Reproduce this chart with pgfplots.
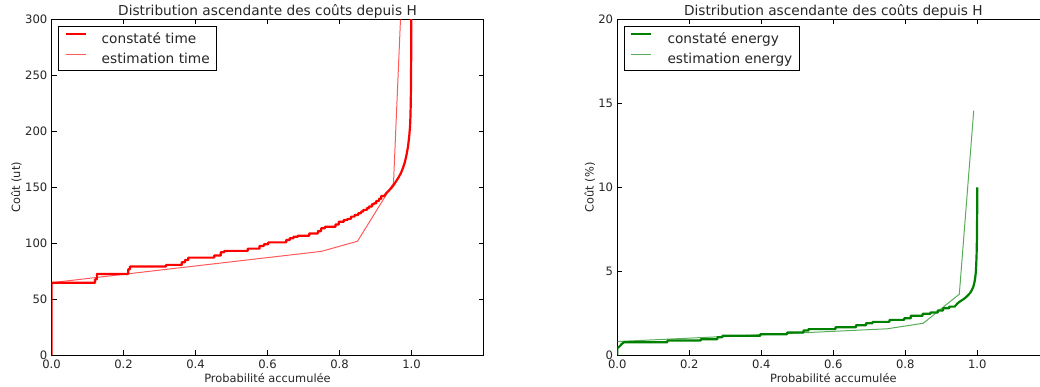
\documentclass[border=0pt]{standalone}
\usepackage{pgfplots}
\pgfplotsset{compat=1.18}
\usepackage{fontspec}
\setmainfont{DejaVu Sans}
\definecolor{mred}{rgb}{1,0,0}
\definecolor{mgreen}{rgb}{0,0.5,0}
\pgfplotsset{
  myaxis/.style={
    scale only axis, width=432pt, height=336pt,
    xmin=0, xmax=1.2,
    xtick={0,0.2,0.4,0.6,0.8,1.0},
    xticklabels={0.0,0.2,0.4,0.6,0.8,1.0},
    /pgf/number format/assume math mode=true,
    tick align=inside, major tick length=5pt,
    every tick/.style={black, line width=0.8pt},
    axis line style={line width=1pt, black},
    tick label style={font=\fontsize{11.6}{13}\selectfont, inner sep=0pt, text=black!85},
    xticklabel style={yshift=-4pt},
    yticklabel style={xshift=-4pt},
    every axis title shift=0pt,
    title style={font=\fontsize{13.7}{16}\selectfont, at={(axis description cs:0.5,1)}, anchor=base, yshift=4pt, inner sep=0pt, text=black!85},
    xlabel style={font=\fontsize{11.4}{13}\selectfont, at={(axis description cs:0.5,0)}, anchor=base, yshift=-27pt, inner sep=0pt, text=black!85},
    ylabel style={font=\fontsize{11.4}{13}\selectfont, anchor=base, inner sep=0pt, text=black!85},
    title={Distribution ascendante des coûts depuis H},
    xlabel={Probabilité accumulée},
    legend cell align=left,
    legend style={at={(axis description cs:0,1)}, anchor=north west, xshift=6.5pt, yshift=-6.5pt,
      draw=black, line width=1pt, font=\fontsize{13.7}{16}\selectfont,
      inner xsep=6pt, inner ysep=5pt, row sep=6pt, column sep=14pt,
      nodes={inner sep=1pt, text=black!85}},
    legend image code/.code={\draw[#1] (0pt,4.5pt) -- (20pt,4.5pt);},
    clip=true,
  }
}
\begin{document}
\begin{tikzpicture}
\useasboundingbox (0,0) rectangle (1040pt,387pt);
\begin{axis}[myaxis, at={(51.5pt,31.5pt)}, anchor=south west,
  ymin=0, ymax=300, ytick={0,50,100,150,200,250,300},
  ylabel={Coût (ut)}, ylabel style={at={(axis description cs:-0.0729,0.5)}}]
\addplot[mred, line width=2.2pt, line join=round] coordinates {
(0,0)(0,65)(0.121,65)(0.121,68)(0.126,68)(0.126,72.8)(0.213,72.8)(0.213,77)(0.218,77)(0.218,79.4)
(0.318,79.4)(0.318,80.9)(0.362,80.9)(0.362,83.3)(0.371,83.3)(0.371,85.3)(0.380,85.3)(0.380,87.4)
(0.452,87.4)(0.452,89.2)(0.470,89.2)(0.470,92.2)(0.480,92.2)(0.480,93.4)(0.545,93.4)(0.545,95.4)
(0.578,95.4)(0.578,97.8)(0.590,97.8)(0.590,99.3)(0.602,99.3)(0.602,101)(0.652,101)(0.652,103.2)
(0.662,103.2)(0.662,104.7)(0.672,104.7)(0.672,106)(0.684,106)(0.684,107)(0.716,107)(0.716,109)
(0.740,109)(0.740,111)(0.749,111)(0.749,113.6)(0.760,113.6)(0.760,115)(0.789,115)(0.789,117)
(0.798,117)(0.798,119.5)(0.812,119.5)(0.812,121)(0.822,121)(0.822,122)(0.832,122)(0.832,124)
(0.842,124)(0.842,125.5)(0.852,125.5)(0.852,127)(0.860,127)(0.860,128.5)(0.866,128.5)(0.866,130)
(0.876,130)(0.876,131.5)(0.882,131.5)(0.882,133)(0.890,133)(0.890,135)(0.896,135)(0.896,136)
(0.902,136)(0.902,138)(0.910,138)(0.910,140)(0.916,140)(0.916,142.4)(0.924,142.4)
(0.930,145)(0.938,147.5)(0.945,150)(0.950,152)(0.955,154.5)(0.960,157)(0.965,159.5)(0.970,162.5)
(0.974,165.5)(0.978,169)(0.981,172)(0.984,176)(0.987,180.5)(0.990,186)(0.992,191)(0.994,197)
(0.996,205)(0.997,213)(0.998,226)(0.9985,240)(0.999,262)(0.9995,300)(1.0,400)
};
\addlegendentry{constaté time}
\addplot[mred, opacity=0.65, line width=1pt] coordinates {
(0,65) (0.75,93) (0.85,102) (0.95,154) (0.99,455)
};
\addlegendentry{estimation time}
\end{axis}
\begin{axis}[myaxis, at={(617.3pt,31.5pt)}, anchor=south west,
  ymin=0, ymax=20, ytick={0,5,10,15,20},
  ylabel={Coût (\%)}, ylabel style={at={(axis description cs:-0.055,0.5)}}]
\addplot[mgreen, line width=2.2pt, line join=round] coordinates {
(0,0)(0,0.44)(0.004,0.5)(0.008,0.58)(0.012,0.68)(0.0185,0.79)
(0.139,0.79)(0.139,0.89)(0.232,0.89)(0.232,0.97)(0.278,0.97)(0.278,1.09)(0.292,1.09)(0.292,1.17)
(0.397,1.17)(0.397,1.27)(0.472,1.27)(0.472,1.37)(0.517,1.37)(0.517,1.49)(0.531,1.49)(0.531,1.57)
(0.606,1.57)(0.606,1.68)(0.663,1.68)(0.663,1.80)(0.691,1.80)(0.691,1.92)(0.709,1.92)(0.709,2.0)
(0.756,2.0)(0.756,2.12)(0.797,2.12)(0.797,2.22)(0.815,2.22)(0.815,2.36)(0.848,2.36)(0.848,2.48)
(0.870,2.48)(0.870,2.56)(0.890,2.56)(0.890,2.68)(0.905,2.68)(0.905,2.81)(0.922,2.81)(0.922,2.91)(0.937,2.91)
(0.945,3.1)(0.952,3.22)(0.958,3.3)(0.966,3.42)(0.973,3.56)(0.980,3.72)(0.985,3.9)(0.989,4.1)
(0.992,4.35)(0.994,4.6)(0.996,5.0)(0.997,5.4)(0.998,6.0)(0.999,7.0)(0.9995,8.3)(1.0,10.0)
};
\addlegendentry{constaté energy}
\addplot[mgreen, opacity=0.65, line width=1pt] coordinates {
(0,0.83) (0.75,1.59) (0.85,1.92) (0.95,3.65) (0.99,14.57)
};
\addlegendentry{estimation energy}
\end{axis}
\end{tikzpicture}
\end{document}
